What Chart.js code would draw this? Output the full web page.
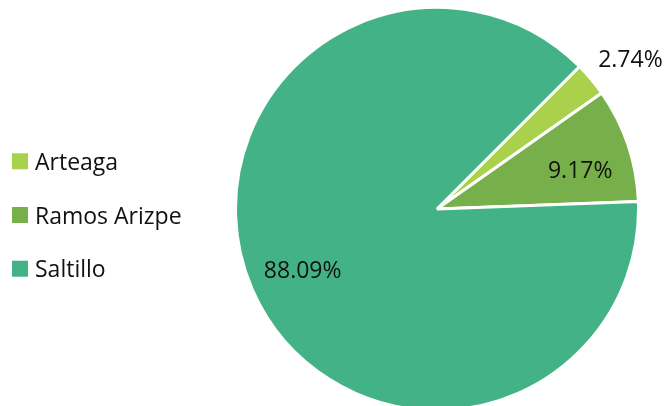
<!DOCTYPE html>
<html>
<head>
<meta charset="utf-8">
<script src="https://cdn.jsdelivr.net/npm/chart.js@4.4.1/dist/chart.umd.min.js"></script>
<style>
  html, body { margin: 0; padding: 0; background: #fff; overflow: hidden; }
  #wrap { position: relative; width: 667px; height: 420px; }
</style>
</head>
<body>
<div id="wrap"><canvas id="pie-chart"></canvas></div>
<script>
  // municipios y su participación (%)
  var municipios = ['Arteaga', 'Ramos Arizpe', 'Saltillo'];
  var porcentajes = [2.74, 9.17, 88.09];
  var colores = ['#a9d14b', '#77b04a', '#43b387'];

  // ubicación de cada etiqueta: fracción del radio y giro (grados) respecto al centro del sector
  var posEtiqueta = [1.216, 0.737, 0.732];
  var giroEtiqueta = [2.2, 3.3, -0.85];

  var FONT = '"Open Sans", sans-serif';

  var etiquetas = {
    id: 'etiquetas',
    afterDatasetsDraw: function (chart) {
      var ctx = chart.ctx;
      var meta = chart.getDatasetMeta(0);
      ctx.save();
      ctx.font = '23px ' + FONT;
      ctx.fillStyle = '#111';
      ctx.textAlign = 'center';
      ctx.textBaseline = 'alphabetic';
      meta.data.forEach(function (arc, i) {
        var mid = (arc.startAngle + arc.endAngle) / 2 + giroEtiqueta[i] * Math.PI / 180;
        var r = arc.outerRadius * posEtiqueta[i];
        var x = arc.x + Math.cos(mid) * r;
        var y = arc.y + Math.sin(mid) * r;
        ctx.fillText(porcentajes[i].toFixed(2) + '%', x, y + 8);
      });
      ctx.restore();
    }
  };

  var leyenda = {
    id: 'leyenda',
    afterDraw: function (chart) {
      var ctx = chart.ctx;
      ctx.save();
      ctx.font = '23px ' + FONT;
      ctx.textBaseline = 'alphabetic';
      municipios.forEach(function (m, i) {
        var y = 161.3 + i * 53.7;
        ctx.fillStyle = colores[i];
        ctx.fillRect(12, y - 8, 16, 16);
        ctx.fillStyle = '#111';
        ctx.fillText(m, 35, y + 8.5);
      });
      ctx.restore();
    }
  };

  new Chart(document.getElementById('pie-chart'), {
    type: 'pie',
    data: {
      labels: municipios,
      datasets: [{
        data: porcentajes,
        backgroundColor: colores,
        borderColor: '#ffffff',
        borderWidth: 3,
        hoverOffset: 0
      }]
    },
    options: {
      responsive: true,
      maintainAspectRatio: false,
      animation: false,
      rotation: 45,
      layout: {
        padding: { left: 234, right: 27, top: 5, bottom: 7 }
      },
      plugins: {
        legend: { display: false },
        tooltip: { enabled: false }
      }
    },
    plugins: [etiquetas, leyenda]
  });
</script>
</body>
</html>
